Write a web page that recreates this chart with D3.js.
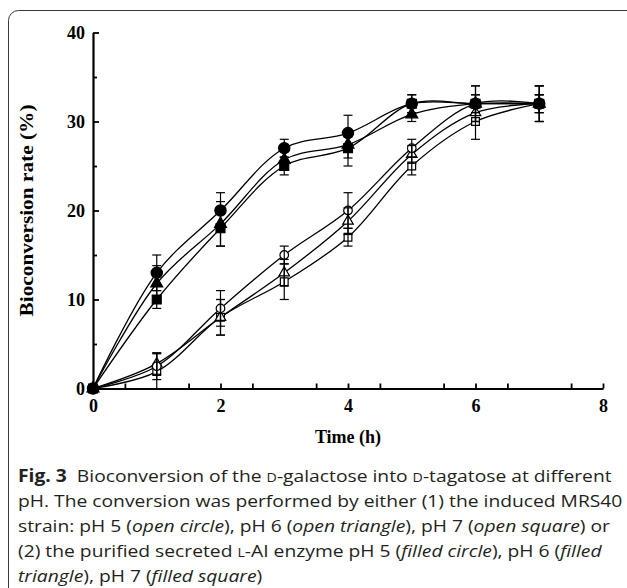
<!DOCTYPE html>
<html><head><meta charset="utf-8">
<script src="https://cdn.jsdelivr.net/npm/d3@7"></script>
<style>body{margin:0;background:#fff}</style></head>
<body>
<script>
// ---- data ----
const times = [0, 1, 2, 3, 4, 5, 6, 7];
const filledCircle      = [0, 13, 20, 27, 28.7, 32, 32, 32];
const filledCircleErr   = [0, 2, 2, 1, 2, 1, 2, 2];
const filledTriangle    = [0, 11.8, 18.5, 25.7, 27.4, 30.8, 32, 32];
const filledTriangleErr = [0, 2, 2.5, 1, 1.5, 0.8, 1, 1];
const filledSquare      = [0, 10, 18, 25, 27, 32, 32, 32];
const filledSquareErr   = [0, 1, 2, 1, 2, 1, 2, 2];
const openCircle        = [0, 2.5, 9, 15, 20, 27, 32, 32];
const openCircleErr     = [0, 1.5, 2, 1, 2, 1, 1, 1];
const openTriangle      = [0, 2.8, 8, 13, 18.8, 26.3, 31, 32];
const openTriangleErr   = [0, 1.2, 2, 1.5, 1.5, 1, 1, 1];
const openSquare        = [0, 1.9, 8, 12, 17, 25, 30, 32];
const openSquareErr     = [0, 2, 2, 2, 1, 1, 2, 2];
const xTickLabels = [0, 2, 4, 6, 8];
const yTickLabels = [0, 10, 20, 30, 40];
const xTitle = "Time (h)";
const yTitle = "Bioconversion rate (%)";
const captionLines = [
  [["Fig. 3", "b"], ["  Bioconversion of the ", ""], ["D", "sc"], ["-galactose into ", ""], ["D", "sc"], ["-tagatose at different", ""]],
  [["pH. The conversion was performed by either (1) the induced MRS40", ""]],
  [["strain: pH 5 (", ""], ["open circle", "i"], ["), pH 6 (", ""], ["open triangle", "i"], ["), pH 7 (", ""], ["open square", "i"], [") or", ""]],
  [["(2) the purified secreted ", ""], ["L", "sc"], ["-AI enzyme pH 5 (", ""], ["filled circle", "i"], ["), pH 6 (", ""], ["filled", "i"]],
  [["triangle", "i"], ["), pH 7 (", ""], ["filled square", "i"], [")", ""]]
];

const series = [
  {vals: openSquare, err: openSquareErr, sym: d3.symbolSquare, size: 60, filled: false},
  {vals: openTriangle, err: openTriangleErr, sym: d3.symbolTriangle, size: 48, filled: false},
  {vals: openCircle, err: openCircleErr, sym: d3.symbolCircle, size: 58, filled: false},
  {vals: filledSquare, err: filledSquareErr, sym: d3.symbolSquare, size: 80, filled: true},
  {vals: filledTriangle, err: filledTriangleErr, sym: d3.symbolTriangle, size: 62, filled: true},
  {vals: filledCircle, err: filledCircleErr, sym: d3.symbolCircle, size: 100, filled: true}
];

const W = 627, H = 588;
const svg = d3.select("body").append("svg").attr("width", W).attr("height", H);

// frame
svg.append("path")
  .attr("d", "M8.5,700 L8.5,20.5 A10,10 0 0 1 18.5,10.5 L700,10.5")
  .attr("fill", "none").attr("stroke", "#3a3a3a").attr("stroke-width", 1);

const x = d3.scaleLinear().domain([0, 8]).range([93, 603]);
const y = d3.scaleLinear().domain([0, 40]).range([388.5, 32.5]);

const serif = "'Liberation Serif','Times New Roman',serif";

// y axis
const gy = svg.append("g").attr("transform", `translate(${x(0)},0)`);
gy.call(d3.axisLeft(y).tickValues(yTickLabels).tickSizeInner(-6).tickSizeOuter(0).tickPadding(8).tickFormat(d3.format("d")));
gy.append("g").call(d3.axisLeft(y).tickValues([5, 15, 25, 35]).tickSizeInner(-4).tickSizeOuter(0).tickFormat(""))
  .select(".domain").remove();
// x axis
const gx = svg.append("g").attr("transform", `translate(0,${y(0)})`);
gx.call(d3.axisBottom(x).tickValues(xTickLabels).tickSizeInner(-5).tickSizeOuter(0).tickPadding(11).tickFormat(d3.format("d")));
gx.append("g").call(d3.axisBottom(x).tickValues(d3.range(0.5, 8, 1)).tickSizeInner(-5).tickSizeOuter(0).tickFormat(""))
  .select(".domain").remove();

svg.selectAll(".domain").attr("stroke", "#000").attr("stroke-width", 2.2);
svg.selectAll(".tick line").attr("stroke", "#000").attr("stroke-width", 1.8);
svg.selectAll(".tick text").attr("font-family", serif).attr("font-weight", "bold")
  .attr("font-size", 18).attr("fill", "#000");

// titles
svg.append("text").attr("x", x(4)).attr("y", 443).attr("text-anchor", "middle")
  .attr("font-family", serif).attr("font-weight", "bold").attr("font-size", 18).text(xTitle);
svg.append("text").attr("transform", `translate(33,${y(20)}) rotate(-90)`).attr("text-anchor", "middle")
  .attr("font-family", serif).attr("font-weight", "bold").attr("font-size", 18)
  .attr("textLength", 212).attr("lengthAdjust", "spacingAndGlyphs").text(yTitle);

// lines
const line = d3.line().x((d, i) => x(times[i])).y(d => y(d)).curve(d3.curveCatmullRom.alpha(0.5));
const plot = svg.append("g");
series.forEach(s => {
  plot.append("path").attr("d", line(s.vals)).attr("fill", "none")
    .attr("stroke", "#000").attr("stroke-width", 1.3);
});
// markers
series.forEach(s => {
  const sym = d3.symbol().type(s.sym).size(s.size);
  plot.append("g").selectAll("path").data(s.vals).join("path")
    .attr("transform", (d, i) => `translate(${x(times[i])},${y(d)})`)
    .attr("d", sym)
    .attr("fill", s.filled ? "#000" : "#fff")
    .attr("stroke", "#000").attr("stroke-width", 1.2);
});
// error bars
series.forEach(s => {
  const g = plot.append("g");
  s.vals.forEach((v, i) => {
    const e = s.err[i];
    if (!e) return;
    const cx = x(times[i]);
    g.append("line").attr("x1", cx).attr("x2", cx).attr("y1", y(v - e)).attr("y2", y(v + e))
      .attr("stroke", "#000").attr("stroke-width", 1.2);
    [v - e, v + e].forEach(t => {
      g.append("line").attr("x1", cx - 4.5).attr("x2", cx + 4.5).attr("y1", y(t)).attr("y2", y(t))
        .attr("stroke", "#000").attr("stroke-width", 1.2);
    });
  });
});

// caption
const cap = svg.append("g").attr("transform", "translate(18,0)");
const capFont = "'Open Sans','Noto Sans',sans-serif";
const lineY = [482, 507, 532, 557, 582];
const texts = [];
captionLines.forEach((segs, li) => {
  const t = cap.append("text").attr("x", 0).attr("y", lineY[li])
    .attr("font-family", capFont).attr("font-size", 17).attr("fill", "#231f20")
    .attr("xml:space", "preserve").style("white-space", "pre");
  segs.forEach(([str, st]) => {
    const ts = t.append("tspan").text(str);
    if (st === "b") ts.attr("font-weight", "bold");
    if (st === "i") ts.attr("font-style", "italic");
    if (st === "sc") ts.attr("font-size", 12.5);
  });
  texts.push(t);
});
const w0 = texts[0].node().getComputedTextLength();
const sx = 594 / w0;
cap.attr("transform", `translate(18,0) scale(${sx},1)`);
</script>
</body></html>
